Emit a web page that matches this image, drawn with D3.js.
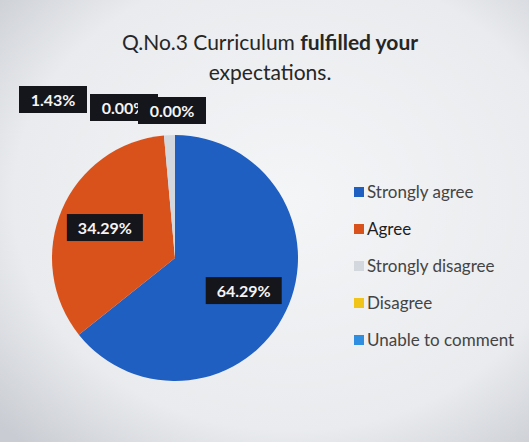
<html lang="en">
<head>
    <meta charset="UTF-8">
    <title>Curriculum pie</title>
    <script src="https://d3js.org/d3.v7.min.js"></script>
    <style>
        body { margin: 0; }
        svg { display: block; font-family: Lato, "Open Sans", sans-serif; }
    </style>
</head>
<body>
    <script>
        const categories = ['Strongly agree', 'Agree', 'Strongly disagree', 'Disagree', 'Unable to comment'];
        const values = [64.29, 34.29, 1.43, 0.00, 0.00];
        const valueLabels = ['64.29%', '34.29%', '1.43%', '0.00%', '0.00%'];
        const colors = ['#1f5fc2', '#d9521c', '#d3d7de', '#f0c419', '#2f8ee0'];

        const w = 529, h = 442;
        const cx = 175, cy = 258, radius = 123;

        const svg = d3.select('body').append('svg')
            .attr('width', w)
            .attr('height', h);

        // photo-ish paper background
        const defs = svg.append('defs');
        const grad = defs.append('radialGradient').attr('id', 'bg')
            .attr('cx', '55%').attr('cy', '45%').attr('r', '75%');
        grad.append('stop').attr('offset', '0%').attr('stop-color', '#f4f5f7');
        grad.append('stop').attr('offset', '70%').attr('stop-color', '#e9ebee');
        grad.append('stop').attr('offset', '100%').attr('stop-color', '#c9ccd2');
        svg.append('rect').attr('width', w).attr('height', h).attr('fill', 'url(#bg)');

        // title
        const title = svg.append('text')
            .attr('text-anchor', 'middle')
            .style('font-size', '21px')
            .attr('fill', '#262626');
        const line1 = title.append('tspan').attr('x', 270).attr('y', 50);
        line1.append('tspan').text('Q.No.3 Curriculum ');
        line1.append('tspan').style('font-weight', 'bold').text('fulfilled your');
        title.append('tspan').attr('x', 270).attr('y', 80).text('expectations.');

        const pie = d3.pie().sort(null).value(d => d)(values);
        const arc = d3.arc().innerRadius(0).outerRadius(radius);
        const labelArc = d3.arc().innerRadius(radius * 0.62).outerRadius(radius * 0.62);

        const g = svg.append('g').attr('transform', `translate(${cx},${cy})`);
        g.selectAll('path')
            .data(pie)
            .enter()
            .append('path')
            .attr('d', arc)
            .attr('fill', (d, i) => colors[i]);

        // small slices get their labels pushed above the pie, right to left
        const outside = [
            null, null,
            { dx: -122, dy: -158 },
            { dx: -51, dy: -150 },
            { dx: -3, dy: -147 }
        ];

        const labels = g.selectAll('g.lbl')
            .data(pie)
            .enter()
            .append('g')
            .attr('class', 'lbl')
            .attr('transform', (d, i) => {
                if (outside[i]) return `translate(${outside[i].dx},${outside[i].dy})`;
                const c = labelArc.centroid(d);
                return `translate(${c[0]},${c[1]})`;
            });

        labels.append('rect')
            .attr('x', (d, i) => i < 2 ? -38 : -34)
            .attr('y', -14)
            .attr('width', (d, i) => i < 2 ? 76 : 68)
            .attr('height', 27)
            .attr('fill', '#15161b');

        labels.append('text')
            .attr('text-anchor', 'middle')
            .attr('dy', '0.36em')
            .attr('fill', '#f4f4f4')
            .style('font-size', '16px')
            .style('font-weight', 'bold')
            .text((d, i) => valueLabels[i]);

        // legend
        const yLegend = d3.scalePoint()
            .domain(categories)
            .range([192, 340]);

        const legend = svg.append('g')
            .selectAll('g')
            .data(categories)
            .enter()
            .append('g')
            .attr('transform', d => `translate(354,${yLegend(d)})`);

        legend.append('rect')
            .attr('x', 0)
            .attr('y', -5)
            .attr('width', 10)
            .attr('height', 10)
            .attr('fill', (d, i) => colors[i]);

        legend.append('text')
            .attr('x', 13)
            .attr('dy', '0.35em')
            .style('font-size', '17px')
            .attr('fill', (d, i) => i === 1 ? '#1e1e1e' : '#444')
            .text(d => d);
    </script>
</body>
</html>
